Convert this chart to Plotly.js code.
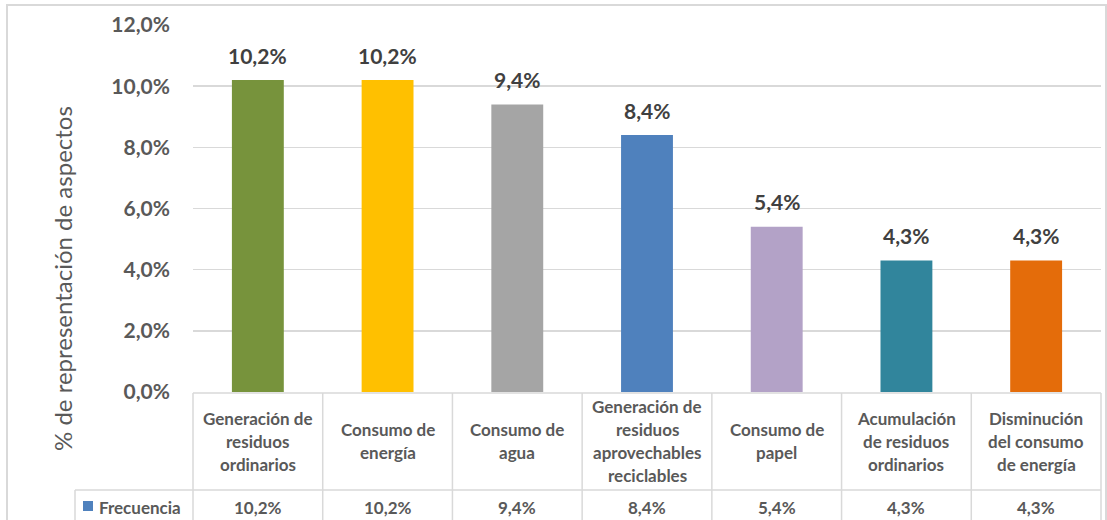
<!DOCTYPE html>
<html><head><meta charset="utf-8">
<script src="https://cdn.plot.ly/plotly-3.0.1.min.js"></script>
<style>html,body{margin:0;padding:0;background:#fff}#chart{width:1107px;height:520px}</style>
</head><body><div id="chart"></div>
<script>
// ---- data ----
const categories = [
  ['Generación de', 'residuos', 'ordinarios'],
  ['Consumo de', 'energía'],
  ['Consumo de', 'agua'],
  ['Generación de', 'residuos', 'aprovechables', 'reciclables'],
  ['Consumo de', 'papel'],
  ['Acumulación', 'de residuos', 'ordinarios'],
  ['Disminución', 'del consumo', 'de energía']
];
const values = [0.102, 0.102, 0.094, 0.084, 0.054, 0.043, 0.043];
const barColors = ['#77933C', '#FFC000', '#A5A5A5', '#4F81BD', '#B3A2C7', '#31859C', '#E46C0A'];
const seriesName = 'Frecuencia';
const seriesColor = '#4F81BD';
const yTickVals = [0, 0.02, 0.04, 0.06, 0.08, 0.10, 0.12];
const yTitle = '% de representación de aspectos';

// ---- layout geometry (pixels) ----
const L = 193, R = 1101, T = 25, B = 392;
const px = X => (X - L) / (R - L);
const py = Y => (B - Y) / (B - T);
const row1Bottom = 490, tableBottom = 530, legendLeft = 75;
const FONT = 'Lato, "Open Sans", sans-serif';
const gridCol = '#D9D9D9';
const n = categories.length;
const xKeys = categories.map(c => c.join(' '));
const fmt = v => (v * 100).toFixed(1).replace('.', ',') + '%';

const shapes = [];
const line = (x0, y0, x1, y1) => shapes.push({type: 'line', xref: 'paper', yref: 'paper',
  x0: px(x0), y0: py(y0), x1: px(x1), y1: py(y1), line: {color: gridCol, width: 1.5}});
// outer chart border
shapes.push({type: 'rect', xref: 'paper', yref: 'paper', x0: px(7), y0: py(5), x1: px(1106), y1: py(560),
  line: {color: gridCol, width: 2}});
// table lines
line(L, B + 1, R, B + 1);
line(legendLeft, row1Bottom, R, row1Bottom);
line(legendLeft, row1Bottom, legendLeft, tableBottom);
for (let i = 0; i <= n; i++) {
  const X = L + (R - L) * i / n;
  line(X, B + 1, X, tableBottom);
}
// legend key
shapes.push({type: 'rect', xref: 'paper', yref: 'paper', x0: px(83), x1: px(93), y0: py(501), y1: py(511),
  fillcolor: seriesColor, line: {width: 0}});

const annotations = [];
// data labels
values.forEach((v, i) => annotations.push({x: xKeys[i], y: v, xref: 'x', yref: 'y', text: fmt(v),
  showarrow: false, yanchor: 'middle', yshift: 25, font: {family: FONT, size: 21, color: '#404040', weight: 'bold'}}));
// category text in table
const lineStep = 23;
categories.forEach((lines, i) => {
  const mid = (B + row1Bottom) / 2;
  lines.forEach((t, k) => {
    const Y = mid + (k - (lines.length - 1) / 2) * lineStep;
    annotations.push({x: xKeys[i], y: py(Y), xref: 'x', yref: 'paper', text: t, showarrow: false,
      yanchor: 'middle', xanchor: 'center', font: {family: FONT, size: 17, color: '#595959', weight: 'bold'}});
  });
  annotations.push({x: xKeys[i], y: py(507), xref: 'x', yref: 'paper', text: fmt(values[i]), showarrow: false,
    yanchor: 'middle', font: {family: FONT, size: 17, color: '#595959', weight: 'bold'}});
});
annotations.push({x: px(97), y: py(507), xref: 'paper', yref: 'paper', text: seriesName, showarrow: false,
  xanchor: 'left', yanchor: 'middle', font: {family: FONT, size: 17, color: '#595959', weight: 'bold'}});
// y title
annotations.push({x: px(62), y: py(279), xref: 'paper', yref: 'paper', text: yTitle, showarrow: false,
  textangle: -90, xanchor: 'center', yanchor: 'middle', font: {family: FONT, size: 24, color: '#595959'}});

const trace = {type: 'bar', x: xKeys, y: values, name: seriesName, marker: {color: barColors},
  hoverinfo: 'none'};

const layout = {
  width: 1107, height: 520,
  margin: {l: L, r: 1107 - R, t: T, b: 520 - B, pad: 0},
  paper_bgcolor: '#fff', plot_bgcolor: '#fff',
  separators: ',.',
  showlegend: false,
  bargap: 0.6,
  xaxis: {type: 'category', range: [-0.5, n - 0.5], showticklabels: false, showgrid: false, zeroline: false, showline: false, ticks: ''},
  yaxis: {range: [0, 0.12], tickvals: yTickVals, tickformat: '.1%', showgrid: true, gridcolor: gridCol, gridwidth: 1.5,
    zeroline: false, showline: false, ticks: '', ticklabelstandoff: 22,
    tickfont: {family: FONT, size: 21, color: '#595959', weight: 'bold'}},
  shapes: shapes,
  annotations: annotations
};

Plotly.newPlot('chart', [trace], layout, {displayModeBar: false, staticPlot: true});
</script>
</body></html>
